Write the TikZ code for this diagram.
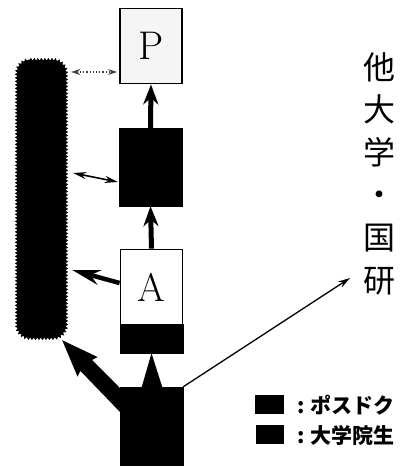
\documentclass[tikz,border=0pt]{standalone}
\usepackage{fontspec}
\newfontfamily\cjk{Noto Sans CJK JP}
\usetikzlibrary{arrows.meta,decorations.pathmorphing,calc}
\begin{document}
\begin{tikzpicture}[x=1pt,y=-1pt,
  box/.style={draw=black, line width=1.8pt, minimum width=62pt, inner sep=0pt},
  blk/.style={fill=black, draw=black, inner sep=0pt},
  fat/.style={line width=5pt, -{Stealth[length=20pt,width=15pt]}},
  lbl/.style={font=\fontsize{21}{21}\selectfont\cjk\bfseries, anchor=west, inner sep=0pt}]
\useasboundingbox (0,0) rectangle (406,467);
\node[box, fill=black!4, minimum height=75pt, font=\fontsize{40}{40}\selectfont] (P) at (151,46) {P};
\node[blk, minimum width=63pt, minimum height=78pt] (M) at (150.5,167) {};
\node[box, minimum height=75pt, font=\fontsize{40}{40}\selectfont] (A) at (151.5,287) {A};
\node[blk, minimum width=63pt, minimum height=29pt] (Ab) at (151.5,338.5) {};
\node[blk, minimum width=63pt, minimum height=78pt] (B) at (151.5,426) {};
\node[inner sep=0pt, minimum width=53pt, minimum height=282pt] (bar) at (41.5,199) {};
\fill (30,60) -- (53,60) arc[start angle=-90,end angle=0,radius=13] -- (66,325) arc[start angle=0,end angle=90,radius=13] -- (30,338) arc[start angle=90,end angle=180,radius=13] -- (17,73) arc[start angle=180,end angle=270,radius=13] -- cycle;
\filldraw[line width=0.8pt, decorate, decoration={zigzag, segment length=3.5pt, amplitude=1.4pt}] (30,60) -- (53,60) arc[start angle=-90,end angle=0,radius=13] -- (66,325) arc[start angle=0,end angle=90,radius=13] -- (30,338) arc[start angle=90,end angle=180,radius=13] -- (17,73) arc[start angle=180,end angle=270,radius=13] -- cycle;
\node[font=\fontsize{32}{42.6}\selectfont\cjk, align=center, inner sep=0pt] (T) at (379,173.5) {他\\大\\学\\・\\国\\研};
\coordinate (TT) at (350,278);
% connectors
\draw[dotted, line width=1.2pt, black!75, {Stealth[length=9pt,width=6pt]}-{Stealth[length=9pt,width=6pt]}] ([xshift=3pt]bar.east |- 0,72) -- ([xshift=-2pt]P.west |- 0,72);
\draw[line width=1.6pt, {Stealth[length=13pt,width=7pt]}-{Stealth[length=13pt,width=7pt]}] ([xshift=5pt]bar.east |- 0,173) -- ([xshift=-1pt]M.west |- 0,182);
\draw[line width=4.5pt, -{Stealth[length=28pt,width=15pt]}] (A.west |- 0,283) -- ([xshift=4pt]bar.east |- 0,270);
\draw[line width=1.3pt, -{Stealth[length=12pt,width=7pt]}] (B.north east) -- (TT);
\draw[fat] (M.north) -- (P.south);
\draw[fat] (A.north) -- (M.south);
\fill (Ab.south) -- ($(B.north)+(-10,1)$) -- ($(B.north)+(11,1)$) -- cycle;
\fill ($(bar.south east)+(-6,0)$) -- (97.7,357.1) -- (92,359.9) -- ($(B.north west)+(0,1)$) -- ($(B.north west)+(0,25)$) -- (80.4,370.9) -- (77.5,376.5) -- cycle;
% legend
\node[blk, minimum width=28pt, minimum height=18pt] (L1) at (269,404) {};
\node[blk, minimum width=27pt, minimum height=18pt] (L2) at (270,434) {};
\node[lbl] (L1t) at (297,405) {: ポスドク};
\node[lbl] (L2t) at (297,435) {: 大学院生};
\end{tikzpicture}
\end{document}
